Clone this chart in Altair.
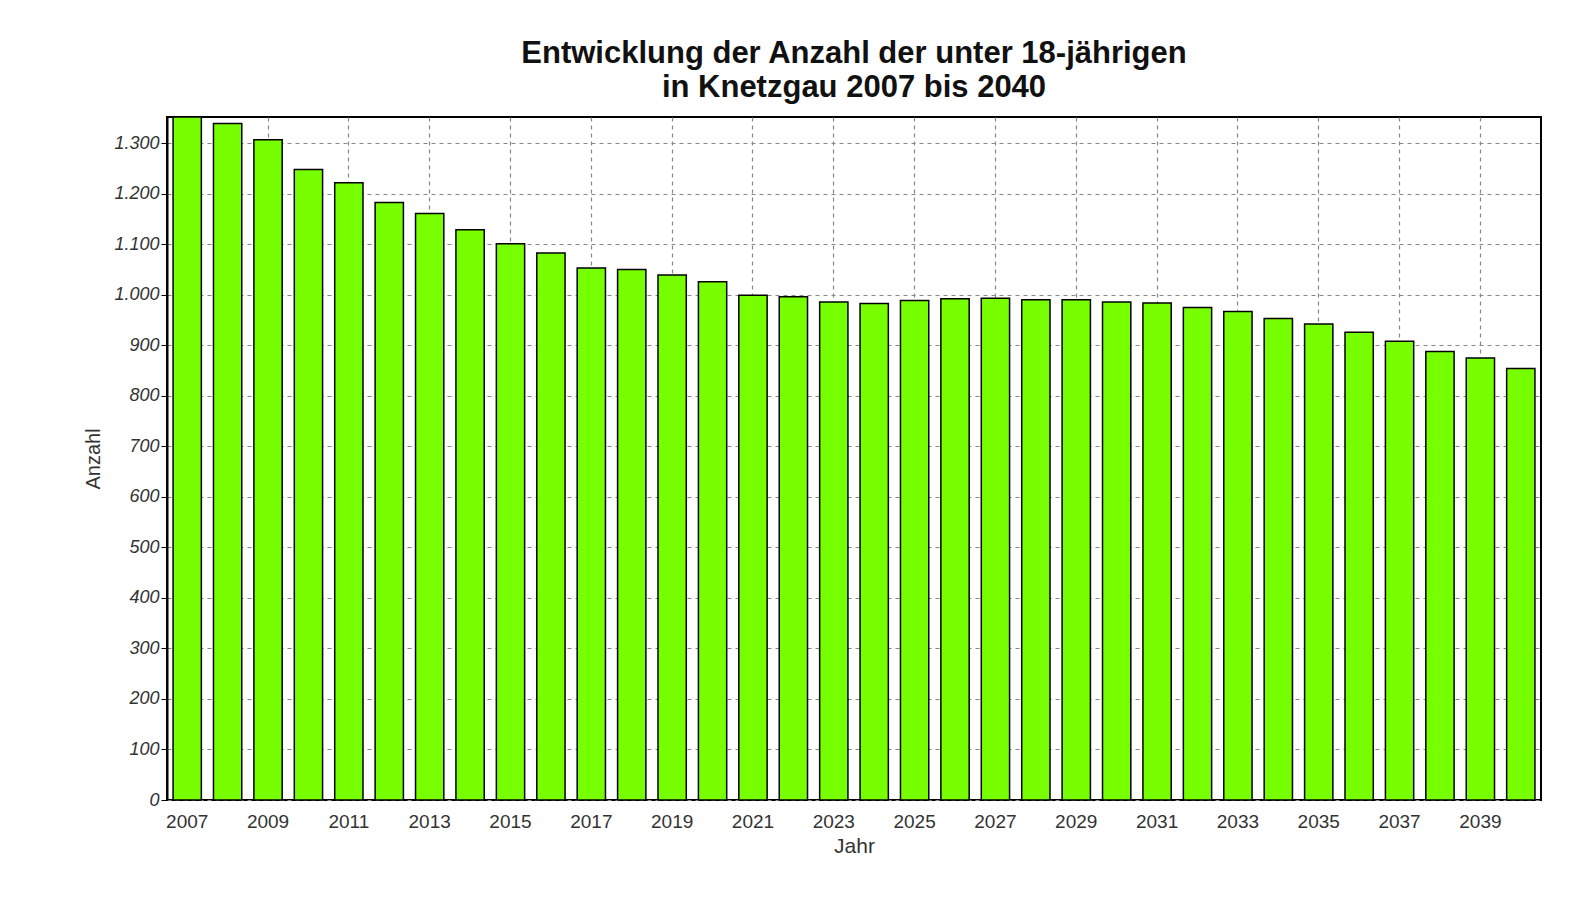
import altair as alt
import pandas as pd

years = list(range(2007, 2041))
values = [1352, 1339, 1307, 1248, 1222, 1183, 1161, 1129, 1101, 1083,
          1053, 1050, 1039, 1026, 999, 996, 986, 983, 989, 992,
          993, 990, 990, 986, 984, 975, 967, 953, 942, 926,
          908, 888, 875, 854]
x_tick_years = list(range(2007, 2041, 2))
y_ticks = list(range(0, 1301, 100))
title_lines = ["Entwicklung der Anzahl der unter 18-jährigen", "in Knetzgau 2007 bis 2040"]

df = pd.DataFrame({"Jahr": years, "Anzahl": values})

FONT = "Liberation Sans"

chart = alt.Chart(df).mark_bar(
    color="#77FF00", stroke="#000000", strokeWidth=1.5
).encode(
    x=alt.X("Jahr:O",
            scale=alt.Scale(paddingInner=0.3, paddingOuter=0.15),
            axis=alt.Axis(values=x_tick_years, labelAngle=0, title="Jahr",
                          grid=True, gridDash=[4, 4], gridColor="#888888",
                          gridWidth=1.2, domain=False, ticks=False,
                          labelFontSize=19, labelColor="#333333", labelFont=FONT,
                          titleFontSize=21, titleFontWeight="normal", titleColor="#333333",
                          titleFont=FONT, titlePadding=4, labelPadding=12)),
    y=alt.Y("Anzahl:Q",
            scale=alt.Scale(domain=[0, max(values)], nice=False, zero=True),
            axis=alt.Axis(values=y_ticks, title="Anzahl",
                          labelExpr="replace(format(datum.value, ','), ',', '.')",
                          grid=True, gridDash=[4, 4], gridColor="#888888", gridWidth=1.2,
                          domain=True, domainColor="#000000", domainWidth=2,
                          ticks=True, tickColor="#000000", tickSize=6,
                          labelFontSize=18, labelColor="#333333", labelFont=FONT,
                          labelFontStyle="italic",
                          titleFontSize=20, titleFontWeight="normal", titleColor="#333333",
                          titleFont=FONT, titlePadding=10)),
).properties(
    width=1578,
    height=898,
    title=alt.Title(title_lines, fontSize=31, fontWeight="bold", font=FONT,
                    color="#111111", anchor="middle", offset=12, lineHeight=34),
    autosize=alt.AutoSizeParams(type="fit", contains="padding"),
    padding={"left": 75, "right": 45, "top": 30, "bottom": 50},
    background="#ffffff",
).configure_view(
    stroke="#000000", strokeWidth=2, fill="#ffffff"
)

chart.save("out.html", embed_options={"renderer": "svg", "actions": False})
